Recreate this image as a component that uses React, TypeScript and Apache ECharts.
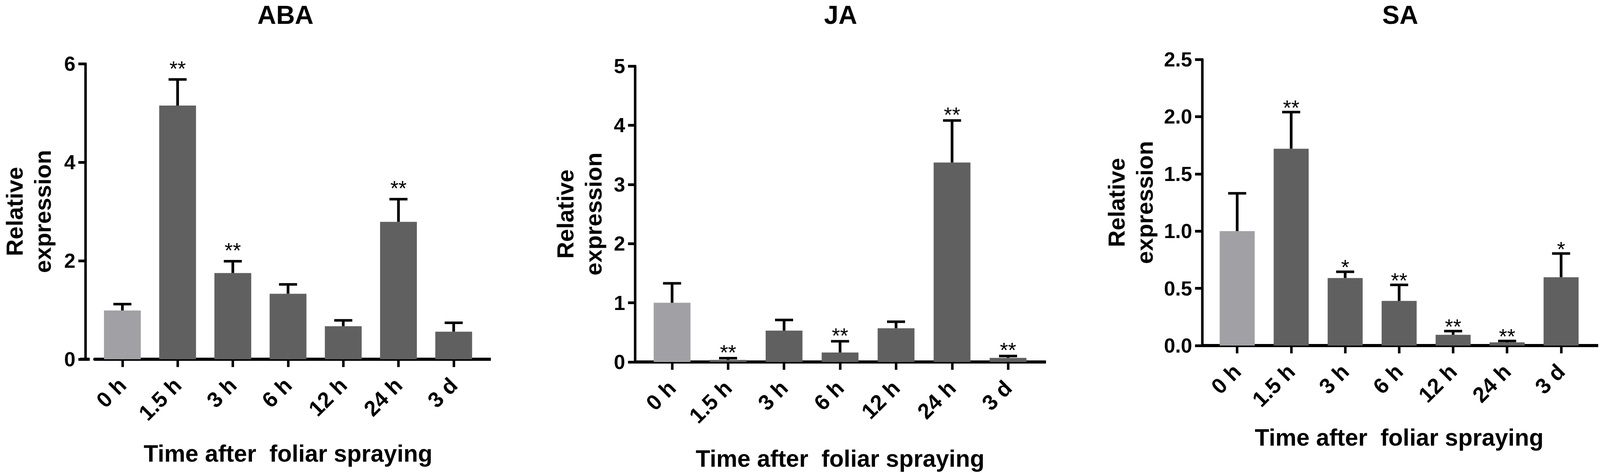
import React, { useEffect, useRef, useState } from 'react';
import * as echarts from 'echarts';

const categories = ['0 h', '1.5 h', '3 h', '6 h', '12 h', '24 h', '3 d'];

const panelTitles = ['ABA', 'JA', 'SA'];

const abaMeans = [0.99, 5.15, 1.75, 1.33, 0.67, 2.79, 0.56];
const abaErrors = [0.13, 0.53, 0.24, 0.19, 0.12, 0.46, 0.18];
const abaStars = ['', '**', '**', '', '', '**', ''];
const abaTicks = [0, 2, 4, 6];

const jaMeans = [1.0, 0.035, 0.53, 0.16, 0.57, 3.37, 0.07];
const jaErrors = [0.33, 0.03, 0.18, 0.19, 0.11, 0.71, 0.03];
const jaStars = ['', '**', '', '**', '', '**', '**'];
const jaTicks = [0, 1, 2, 3, 4, 5];

const saMeans = [1.0, 1.72, 0.59, 0.39, 0.094, 0.028, 0.597];
const saErrors = [0.33, 0.32, 0.055, 0.14, 0.032, 0.012, 0.207];
const saStars = ['', '**', '*', '**', '**', '**', '*'];
const saTicks = [0, 0.5, 1.0, 1.5, 2.0, 2.5];

const yAxisName = 'Relative\nexpression';
const xAxisName = 'Time after  foliar spraying';

const FONT = '"Liberation Sans", Arial, Helvetica, sans-serif';
const LIGHT = '#a1a1a5';
const DARK = '#606060';

const REF_W = 4433;
const REF_H = 1210;

// layout in reference pixels
const layouts = [
  { axisX: 222, bandLeft: 247.5, bandRight: 1333.5, axisEnd: 1360, top: 163, zero: 919, barWidth: 102, yNameGap: 80, xNameGap: 210, starGap: 34, decimals: 0 },
  { axisX: 1760, bandLeft: 1784.5, bandRight: 2870.5, axisEnd: 2898, top: 169, zero: 926, barWidth: 102, yNameGap: 76, xNameGap: 216, starGap: 21, decimals: 0 },
  { axisX: 3331, bandLeft: 3353, bandRight: 4400, axisEnd: 4428, top: 152, zero: 884, barWidth: 97, yNameGap: 120, xNameGap: 204, starGap: 17.5, decimals: 1 },
];

const panelData = [
  { means: abaMeans, errors: abaErrors, stars: abaStars, ticks: abaTicks },
  { means: jaMeans, errors: jaErrors, stars: jaStars, ticks: jaTicks },
  { means: saMeans, errors: saErrors, stars: saStars, ticks: saTicks },
];

function buildOption(sx: number, sy: number) {
  const sf = Math.sqrt(sx * sy);
  const grid: any[] = [];
  const xAxis: any[] = [];
  const yAxis: any[] = [];
  const series: any[] = [];
  const graphic: any[] = [];

  panelData.forEach((pd, i) => {
    const L = layouts[i];
    grid.push({
      left: L.bandLeft * sx,
      top: L.top * sy,
      width: (L.bandRight - L.bandLeft) * sx,
      height: (L.zero - L.top) * sy,
      containLabel: false,
    });
    xAxis.push({
      type: 'category',
      gridIndex: i,
      data: categories,
      axisLine: { show: true, onZero: true, lineStyle: { color: '#000', width: 8 * sy } },
      axisTick: { show: true, alignWithLabel: true, length: 20 * sy, lineStyle: { color: '#000', width: 7 * sx } },
      axisLabel: {
        interval: 0,
        rotate: 45,
        margin: 57 * sy,
        fontSize: 58 * sf,
        fontWeight: 'bold',
        fontFamily: FONT,
        color: '#000',
      },
      splitLine: { show: false },
      name: xAxisName,
      nameLocation: 'middle',
      nameGap: L.xNameGap * sy,
      nameTextStyle: { fontSize: 63 * sf, fontWeight: 'bold', fontFamily: FONT, color: '#000' },
    });
    const t = pd.ticks;
    yAxis.push({
      type: 'value',
      gridIndex: i,
      min: t[0],
      max: t[t.length - 1],
      interval: t[1] - t[0],
      offset: (L.bandLeft - L.axisX) * sx,
      axisLine: { show: true, lineStyle: { color: '#000', width: 7 * sx } },
      axisTick: { show: true, length: 20 * sx, lineStyle: { color: '#000', width: 7 * sy } },
      splitLine: { show: false },
      axisLabel: {
        margin: 28 * sx,
        fontSize: 54 * sf,
        fontWeight: 'bold',
        fontFamily: FONT,
        color: '#000',
        formatter: (v: number) => v.toFixed(L.decimals),
      },
      name: yAxisName,
      nameLocation: 'middle',
      nameRotate: 90,
      nameGap: L.yNameGap * sx,
      nameTextStyle: { fontSize: 62 * sf, fontWeight: 'bold', fontFamily: FONT, color: '#000', lineHeight: 78 * sx },
    });
    series.push({
      type: 'bar',
      xAxisIndex: i,
      yAxisIndex: i,
      barWidth: L.barWidth * sx,
      data: pd.means.map((v, j) => ({ value: v, itemStyle: { color: j === 0 ? LIGHT : DARK } })),
      z: 2,
    });
    series.push({
      type: 'custom',
      xAxisIndex: i,
      yAxisIndex: i,
      z: 3,
      data: pd.means.map((v, j) => [j, v, pd.errors[j]]),
      renderItem: (params: any, api: any) => {
        const idx = api.value(0);
        const m = api.value(1);
        const e = api.value(2);
        const base = api.coord([idx, m]);
        const top = api.coord([idx, m + e]);
        const star = pd.stars[params.dataIndex];
        const children: any[] = [
          {
            type: 'line',
            shape: { x1: base[0], y1: base[1], x2: top[0], y2: top[1] },
            style: { stroke: '#000', lineWidth: 7.5 * sx },
          },
          {
            type: 'line',
            shape: { x1: top[0] - 25 * sx, y1: top[1], x2: top[0] + 25 * sx, y2: top[1] },
            style: { stroke: '#000', lineWidth: 6.5 * sy },
          },
        ];
        if (star) {
          children.push({
            type: 'text',
            x: top[0],
            y: top[1] - (L.starGap - 5.6) * sy,
            style: {
              text: star,
              fill: '#000',
              fontSize: 56 * sf,
              fontFamily: FONT,
              fontWeight: 'normal',
              align: 'center',
              verticalAlign: 'middle',
            },
          });
        }
        return { type: 'group', children };
      },
    });
    // x-axis line extensions beyond the category bands
    graphic.push({
      type: 'line',
      shape: { x1: L.axisX * sx, y1: L.zero * sy, x2: L.bandLeft * sx + 1, y2: L.zero * sy },
      style: { stroke: '#000', lineWidth: 8 * sy },
      z: 10,
    });
    graphic.push({
      type: 'line',
      shape: { x1: L.bandRight * sx - 1, y1: L.zero * sy, x2: L.axisEnd * sx, y2: L.zero * sy },
      style: { stroke: '#000', lineWidth: 8 * sy },
      z: 10,
    });
    graphic.push({
      type: 'text',
      x: ((L.axisX + L.axisEnd) / 2) * sx,
      y: 37.5 * sy,
      style: {
        text: panelTitles[i],
        fill: '#000',
        fontSize: 69 * sf,
        fontWeight: 'bold',
        fontFamily: FONT,
        align: 'center',
        verticalAlign: 'middle',
      },
    });
  });

  return {
    animation: false,
    backgroundColor: '#ffffff',
    grid,
    xAxis,
    yAxis,
    series,
    graphic,
  };
}

export default function App() {
  const ref = useRef<HTMLDivElement>(null);
  const [size] = useState(() => ({
    w: Math.min(window.innerWidth || REF_W, REF_W),
    h: Math.min(window.innerHeight || REF_H, REF_H),
  }));
  useEffect(() => {
    document.body.style.margin = '0';
    document.body.style.overflow = 'hidden';
    if (!ref.current) return;
    const chart = echarts.init(ref.current, undefined, { renderer: 'svg' });
    chart.setOption(buildOption(size.w / REF_W, size.h / REF_H));
    return () => {
      chart.dispose();
    };
  }, [size]);
  return (
    <div
      ref={ref}
      style={{ position: 'fixed', left: 0, top: 0, width: size.w, height: size.h, background: '#fff' }}
    />
  );
}
